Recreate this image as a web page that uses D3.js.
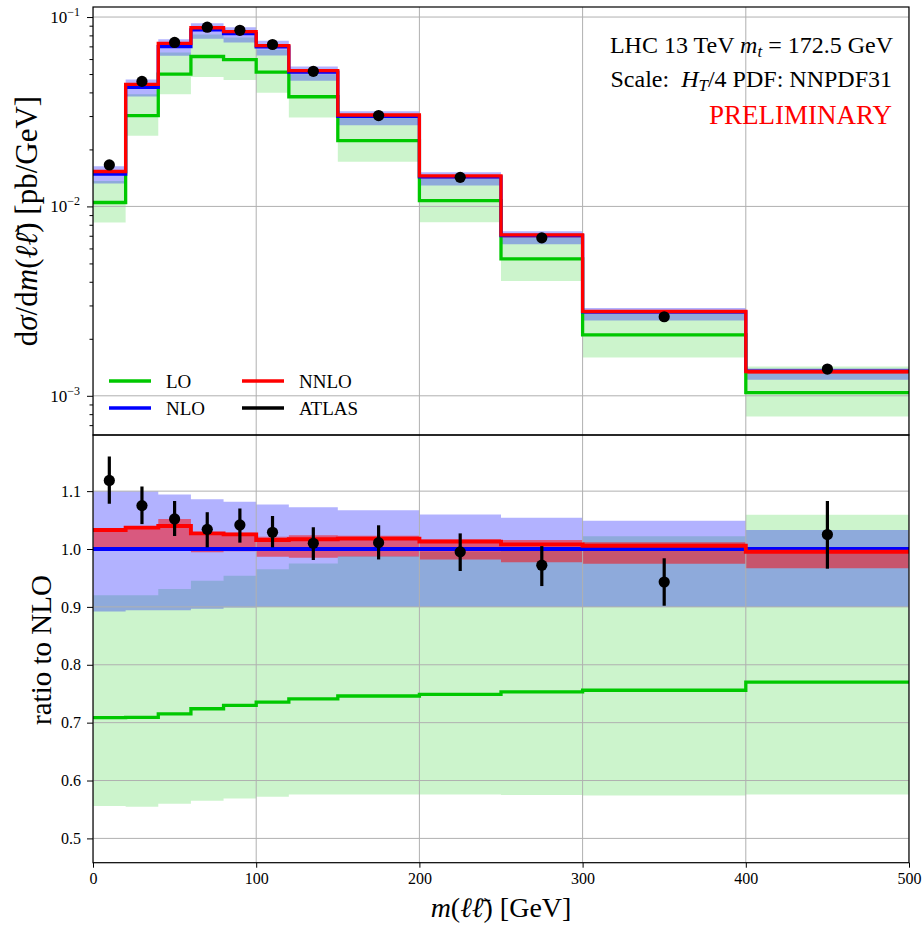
<!DOCTYPE html>
<html>
<head>
<meta charset="utf-8">
<script src="https://cdn.jsdelivr.net/npm/d3@7"></script>
<style>
  html, body { margin: 0; padding: 0; background: #fff; }
  svg { display: block; }
  text { font-family: "Liberation Serif", "DejaVu Serif", serif; fill: #000; }
</style>
</head>
<body>
<div id="chart"></div>
<script>
// ---------------- data ----------------
const binEdges = [0, 20, 40, 60, 80, 100, 120, 150, 200, 250, 300, 400, 500];
// NLO central cross section [pb/GeV]
const nloXsec = [0.01480, 0.04253, 0.0698, 0.0855, 0.0817, 0.0696, 0.0512, 0.02985, 0.01431, 0.00702, 0.002773, 0.00135];
// everything below is expressed as ratio to NLO central
const nloBandLow  = [0.892, 0.894, 0.894, 0.897, 0.899, 0.900, 0.900, 0.900, 0.900, 0.900, 0.900, 0.900];
const nloBandHigh = [1.100, 1.100, 1.094, 1.086, 1.0815, 1.077, 1.072, 1.067, 1.0595, 1.054, 1.049, 1.033];
const loRatio     = [0.7086, 0.709, 0.715, 0.724, 0.730, 0.7356, 0.741, 0.746, 0.749, 0.753, 0.756, 0.770];
const loBandLow   = [0.556, 0.5546, 0.560, 0.565, 0.569, 0.572, 0.576, 0.576, 0.576, 0.575, 0.574, 0.576];
const loBandHigh  = [0.920, 0.920, 0.931, 0.945, 0.954, 0.965, 0.975, 0.988, 0.995, 1.003, 1.022, 1.059];
const nnloRatio   = [1.0328, 1.037, 1.0397, 1.027, 1.0253, 1.0155, 1.017, 1.018, 1.0127, 1.008, 1.0057, 0.9954];
const nnloBandLow = [0.999, 0.999, 0.999, 0.9943, 0.996, 0.9868, 0.985, 0.987, 0.982, 0.977, 0.9746, 0.9666];
const nnloBandHigh= [1.0357, 1.0397, 1.052, 1.029, 1.028, 1.0212, 1.024, 1.023, 1.0173, 1.0155, 1.0115, 1.000];
const atlasX         = [10, 30, 50, 70, 90, 110, 135, 175, 225, 275, 350, 450];
const atlasRatio     = [1.1185, 1.075, 1.052, 1.034, 1.0416, 1.029, 1.010, 1.011, 0.995, 0.972, 0.943, 1.025];
const atlasRatioLow  = [1.078, 1.043, 1.0225, 1.003, 1.011, 1.003, 0.981, 0.982, 0.962, 0.936, 0.902, 0.966];
const atlasRatioHigh = [1.160, 1.108, 1.083, 1.0636, 1.070, 1.057, 1.0376, 1.041, 1.027, 1.005, 0.984, 1.083];

const xTicks = [0, 100, 200, 300, 400, 500];
const topYTicks = [-1, -2, -3];            // exponents of 10
const ratioTicks = [0.5, 0.6, 0.7, 0.8, 0.9, 1.0, 1.1];
const legendItems = [
  {label: "LO",    color: "rgb(0,200,0)"},
  {label: "NLO",   color: "rgb(0,0,255)"},
  {label: "NNLO",  color: "rgb(255,0,0)"},
  {label: "ATLAS", color: "#000"}
];

// ---------------- layout ----------------
const W = 922, H = 927;
const L = 93, R = 909;
const topY0 = 7, topY1 = 435, botY0 = 435, botY1 = 862.7;

const cLO = "rgb(0,200,0)", cNLO = "rgb(0,0,255)", cNNLO = "rgb(255,0,0)";

const svg = d3.select("#chart").append("svg").attr("width", W).attr("height", H);

const x = d3.scaleLinear().domain([0, 500]).range([L, R]);
const yTop = d3.scaleLog().domain([Math.pow(10, -3.207), Math.pow(10, -0.947)]).range([topY1, topY0]);
const yBot = d3.scaleLinear().domain([0.458, 1.197]).range([botY1, botY0]);

const defs = svg.append("defs");
defs.append("clipPath").attr("id", "clipTop").append("rect")
  .attr("x", L).attr("y", topY0).attr("width", R - L).attr("height", topY1 - topY0);
defs.append("clipPath").attr("id", "clipBot").append("rect")
  .attr("x", L).attr("y", botY0).attr("width", R - L).attr("height", botY1 - botY0);

const n = nloXsec.length;
function stepPts(vals) { return binEdges.map((e, i) => ({x: e, v: vals[Math.min(i, n - 1)], i: Math.min(i, n - 1)})); }

function drawPanel(g, yS, toY, clipId) {
  const area = (lo, hi) => d3.area().curve(d3.curveStepAfter)
    .x(d => x(d.x)).y0(d => yS(toY(lo, d.i))).y1(d => yS(toY(hi, d.i)));
  const line = (vals) => d3.line().curve(d3.curveStepAfter).x(d => x(d.x)).y(d => yS(toY(vals, d.i)));
  const pts = stepPts(nloXsec);
  const gc = g.append("g").attr("clip-path", `url(#${clipId})`);
  gc.append("path").attr("d", area(loBandLow, loBandHigh)(pts)).attr("fill", cLO).attr("fill-opacity", 0.2);
  gc.append("path").attr("d", area(nloBandLow, nloBandHigh)(pts)).attr("fill", cNLO).attr("fill-opacity", 0.3);
  gc.append("path").attr("d", area(nnloBandLow, nnloBandHigh)(pts)).attr("fill", cNNLO).attr("fill-opacity", 0.5);
  return {gc, line, pts};
}

function finishPanel(p, yS, toY, wLO, wMain) {
  const {gc, line, pts} = p;
  const ones = nloXsec.map(() => 1);
  gc.append("path").attr("d", line(loRatio)(pts)).attr("fill", "none").attr("stroke", cLO).attr("stroke-width", wLO);
  gc.append("path").attr("d", line(ones)(pts)).attr("fill", "none").attr("stroke", cNLO).attr("stroke-width", wMain);
  gc.append("path").attr("d", line(nnloRatio)(pts)).attr("fill", "none").attr("stroke", cNNLO).attr("stroke-width", wMain);
  gc.selectAll("line.err").data(atlasX).enter().append("line")
    .attr("x1", d => x(d)).attr("x2", d => x(d))
    .attr("y1", (d, i) => yS(toY(atlasRatioLow, i))).attr("y2", (d, i) => yS(toY(atlasRatioHigh, i)))
    .attr("stroke", "#000").attr("stroke-width", 3.2);
  gc.selectAll("circle.pt").data(atlasX).enter().append("circle")
    .attr("cx", d => x(d)).attr("cy", (d, i) => yS(toY(atlasRatio, i))).attr("r", 5.6).attr("fill", "#000");
}

// ---------- top panel ----------
const gTop = svg.append("g");
const toAbs = (arr, i) => arr[i] * nloXsec[i];
const pTop = drawPanel(gTop, yTop, toAbs, "clipTop");
const gridTop = pTop.gc.append("g");
xTicks.forEach(t => gridTop.append("line").attr("x1", x(t)).attr("x2", x(t)).attr("y1", topY0).attr("y2", topY1)
  .attr("stroke", "#b0b0b0").attr("stroke-width", 1));
topYTicks.forEach(e => gridTop.append("line").attr("x1", L).attr("x2", R).attr("y1", yTop(Math.pow(10, e))).attr("y2", yTop(Math.pow(10, e)))
  .attr("stroke", "#b0b0b0").attr("stroke-width", 1));
finishPanel(pTop, yTop, toAbs, 3.3, 3.3);

// ---------- bottom panel ----------
const gBot = svg.append("g");
const toRatio = (arr, i) => arr[i];
const pBot = drawPanel(gBot, yBot, toRatio, "clipBot");
const gridBot = pBot.gc.append("g");
xTicks.forEach(t => gridBot.append("line").attr("x1", x(t)).attr("x2", x(t)).attr("y1", botY0).attr("y2", botY1)
  .attr("stroke", "#b0b0b0").attr("stroke-width", 1));
ratioTicks.forEach(t => gridBot.append("line").attr("x1", L).attr("x2", R).attr("y1", yBot(t)).attr("y2", yBot(t))
  .attr("stroke", "#b0b0b0").attr("stroke-width", 1));
finishPanel(pBot, yBot, toRatio, 3.3, 3.9);

// ---------- axes ----------
const axTop = svg.append("g").attr("transform", `translate(${L},0)`)
  .call(d3.axisLeft(yTop).tickValues(topYTicks.map(e => Math.pow(10, e))).tickSize(6).tickFormat(""));
axTop.select(".domain").remove();
const minorVals = [];
for (let e = -4; e <= -1; e++) for (let m = 2; m <= 9; m++) {
  const v = m * Math.pow(10, e);
  if (v >= yTop.domain()[0] && v <= yTop.domain()[1]) minorVals.push(v);
}
const axTopMinor = svg.append("g").attr("transform", `translate(${L},0)`)
  .call(d3.axisLeft(yTop).tickValues(minorVals).tickSize(3.5).tickFormat(""));
axTopMinor.select(".domain").remove();
topYTicks.forEach(e => {
  const t = svg.append("text").attr("x", 80).attr("y", yTop(Math.pow(10, e)) + 6)
    .attr("text-anchor", "end").style("font-size", "17px");
  t.append("tspan").text("10");
  t.append("tspan").attr("dy", -7).style("font-size", "12px").text("\u2212" + Math.abs(e));
});

const axBot = svg.append("g").attr("transform", `translate(${L},0)`)
  .call(d3.axisLeft(yBot).tickValues(ratioTicks).tickSize(6).tickFormat(d3.format(".1f")));
axBot.select(".domain").remove();
axBot.selectAll("text").style("font-size", "16px").style("font-family", '"Liberation Serif", serif').attr("x", -12);

const axX = svg.append("g").attr("transform", `translate(0,${botY1})`)
  .call(d3.axisBottom(x).tickValues(xTicks).tickSize(5).tickFormat(d3.format("d")));
axX.select(".domain").remove();
axX.selectAll("text").style("font-size", "16px").style("font-family", '"Liberation Serif", serif').attr("y", 10);

svg.selectAll(".tick line").attr("stroke", "#000");

[[topY0, topY1], [botY0, botY1]].forEach(([a, b]) => {
  svg.append("rect").attr("x", L).attr("y", a).attr("width", R - L).attr("height", b - a)
    .attr("fill", "none").attr("stroke", "#000").attr("stroke-width", 1.2);
});

// ---------- texts ----------
const tr = svg.append("g");
const t1 = tr.append("text").attr("x", 893).attr("y", 53).attr("text-anchor", "end").style("font-size", "24px");
t1.append("tspan").text("LHC 13 TeV ");
t1.append("tspan").style("font-style", "italic").text("m");
t1.append("tspan").attr("dy", 4).style("font-style", "italic").style("font-size", "17px").text("t");
t1.append("tspan").attr("dy", -4).text(" = 172.5 GeV");
const t2 = tr.append("text").attr("x", 892).attr("y", 87).attr("text-anchor", "end").style("font-size", "24px");
t2.append("tspan").text("Scale:\u00a0 ");
t2.append("tspan").style("font-style", "italic").text("H");
t2.append("tspan").attr("dy", 4).style("font-style", "italic").style("font-size", "17px").text("T");
t2.append("tspan").attr("dy", -4).text("/4 PDF: NNPDF31");
tr.append("text").attr("x", 892).attr("y", 124).attr("text-anchor", "end").style("font-size", "27px")
  .style("fill", "rgb(255,0,0)").text("PRELIMINARY");

const leg = svg.append("g");
legendItems.forEach((d, i) => {
  const col = Math.floor(i / 2), row = i % 2;
  const lx = 109 + col * 133, ly = 381 + row * 27;
  leg.append("line").attr("x1", lx).attr("x2", lx + 42).attr("y1", ly).attr("y2", ly)
    .attr("stroke", d.color).attr("stroke-width", 3.3);
  leg.append("text").attr("x", lx + 57).attr("y", ly + 6.5).style("font-size", "19px").text(d.label);
});

const yl1 = svg.append("text").attr("transform", `translate(37,221) rotate(-90)`).attr("text-anchor", "middle")
  .style("font-size", "31px");
yl1.append("tspan").text("d");
yl1.append("tspan").style("font-style", "italic").text("\u03c3");
yl1.append("tspan").text("/d");
yl1.append("tspan").style("font-style", "italic").text("m");
yl1.append("tspan").text("(");
yl1.append("tspan").style("font-style", "italic").text("\u2113\u2113\u0304");
yl1.append("tspan").text(") [pb/GeV]");

svg.append("text").attr("transform", `translate(51,650) rotate(-90)`).attr("text-anchor", "middle")
  .style("font-size", "29px").text("ratio to NLO");

const xl = svg.append("text").attr("x", 501).attr("y", 917).attr("text-anchor", "middle").style("font-size", "28px");
xl.append("tspan").style("font-style", "italic").text("m");
xl.append("tspan").text("(");
xl.append("tspan").style("font-style", "italic").text("\u2113\u2113\u0304");
xl.append("tspan").text(") [GeV]");
</script>
</body>
</html>
